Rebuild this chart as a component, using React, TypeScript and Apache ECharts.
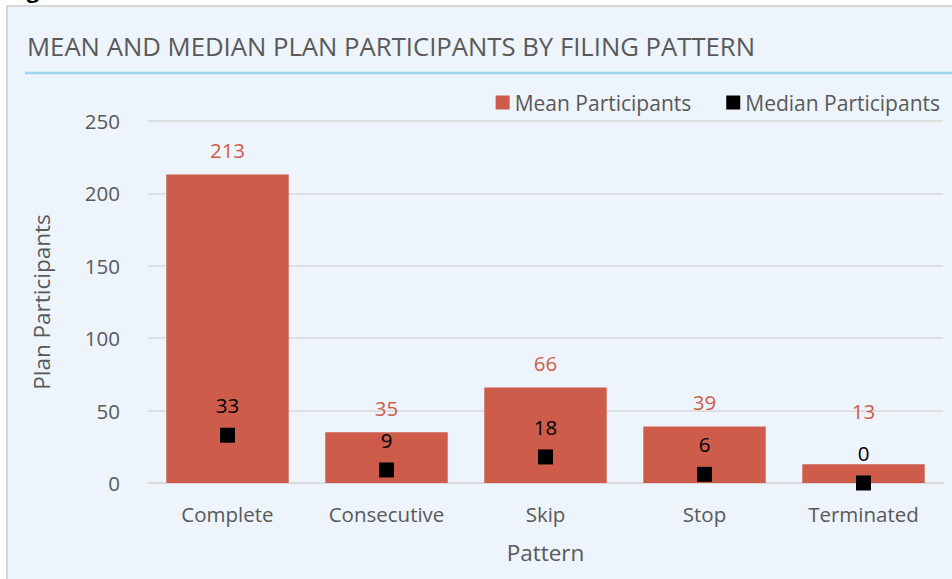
import React, { useEffect, useRef } from "react";
import * as echarts from "echarts";

const categories = ["Complete", "Consecutive", "Skip", "Stop", "Terminated"];
const meanParticipants = [213, 35, 66, 39, 13];
const medianParticipants = [33, 9, 18, 6, 0];
const yTicks = { min: 0, max: 250, interval: 50 };

const FONT = "'Open Sans', sans-serif";
const GRAY = "#595959";
const BAR = "#CD5C4B";

export default function App() {
  const ref = useRef<HTMLDivElement>(null);
  useEffect(() => {
    if (!ref.current) return;
    const chart = echarts.init(ref.current, undefined, { renderer: "svg" });
    // Excel nudged the last mean label upward to clear the median label
    const meanData = meanParticipants.map((v, i) =>
      i === meanParticipants.length - 1
        ? { value: v, label: { distance: 43 } }
        : v
    );
    chart.setOption({
      animation: false,
      backgroundColor: "#ffffff",
      textStyle: { fontFamily: FONT },
      graphic: [
        {
          type: "rect",
          shape: { x: 7, y: 6, width: 960, height: 600 },
          style: { fill: "#EDF4FB", stroke: "#D6D6D6", lineWidth: 2 },
          z: -10,
        },
        {
          type: "text",
          x: 8,
          y: 0,
          style: {
            text: "Figure",
            font: "bold 22px " + FONT,
            fill: "#000",
            verticalAlign: "bottom",
          },
        },
        {
          type: "text",
          x: 27,
          y: 46,
          style: {
            text: "MEAN AND MEDIAN PLAN PARTICIPANTS BY FILING PATTERN",
            font: "25.7px " + FONT,
            fill: GRAY,
            verticalAlign: "middle",
          },
        },
        {
          type: "line",
          shape: { x1: 25, y1: 73, x2: 952, y2: 73 },
          style: { stroke: "#9DD5F2", lineWidth: 2.5 },
        },
      ],
      legend: {
        top: 87,
        right: 7,
        itemWidth: 14,
        itemHeight: 14,
        itemGap: 35,
        icon: "rect",
        textStyle: { color: GRAY, fontSize: 21, fontFamily: FONT },
        data: ["Mean Participants", "Median Participants"],
      },
      grid: { left: 148, right: 9, top: 121, bottom: 96 },
      xAxis: {
        type: "category",
        data: categories,
        name: "Pattern",
        nameLocation: "middle",
        nameGap: 58,
        nameTextStyle: { color: GRAY, fontSize: 22.5, fontFamily: FONT },
        axisLine: { lineStyle: { color: "#D9D9D9", width: 1.5 } },
        axisTick: { show: false },
        axisLabel: { color: GRAY, fontSize: 20.5, fontFamily: FONT, margin: 20 },
      },
      yAxis: {
        type: "value",
        min: yTicks.min,
        max: yTicks.max,
        interval: yTicks.interval,
        name: "Plan Participants",
        nameLocation: "middle",
        nameGap: 95,
        nameTextStyle: { color: GRAY, fontSize: 22.5, fontFamily: FONT },
        axisLine: { show: false },
        axisTick: { show: false },
        axisLabel: { color: GRAY, fontSize: 20.5, fontFamily: FONT, margin: 28 },
        splitLine: { lineStyle: { color: "#D9D9D9", width: 1.5 } },
      },
      series: [
        {
          name: "Mean Participants",
          type: "bar",
          data: meanData,
          barWidth: "77%",
          itemStyle: { color: BAR },
          label: {
            show: true,
            position: "top",
            distance: 14,
            color: BAR,
            fontSize: 20.5,
            fontFamily: FONT,
          },
        },
        {
          name: "Median Participants",
          type: "scatter",
          data: medianParticipants,
          symbol: "rect",
          symbolSize: 15,
          itemStyle: { color: "#000000", opacity: 1 },
          label: {
            show: true,
            position: "top",
            distance: 12,
            color: "#000000",
            fontSize: 20.5,
            fontFamily: FONT,
          },
          z: 5,
        },
      ],
    });
    return () => chart.dispose();
  }, []);
  return (
    <div
      ref={ref}
      style={{ position: "absolute", left: 0, top: 0, width: 952, height: 579 }}
    />
  );
}
